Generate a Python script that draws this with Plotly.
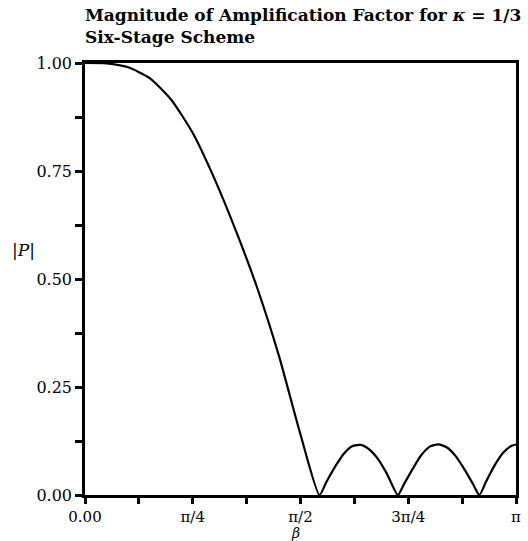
import plotly.graph_objects as go

# beta in units of pi, and |P|
beta_over_pi = [0.0, 0.05, 0.10, 0.15, 0.20, 0.25, 0.30, 0.35, 0.40, 0.45, 0.50, 0.544,
                0.56, 0.58, 0.60, 0.62, 0.64, 0.66, 0.68, 0.70, 0.726,
                0.74, 0.76, 0.78, 0.80, 0.82, 0.84, 0.86, 0.88, 0.90, 0.915,
                0.93, 0.95, 0.97, 0.99, 1.00]
mag_P = [1.0, 0.999, 0.99, 0.965, 0.915, 0.838, 0.733, 0.612, 0.478, 0.322, 0.14, 0.0,
         0.030, 0.065, 0.095, 0.113, 0.116, 0.105, 0.083, 0.050, 0.0,
         0.025, 0.060, 0.092, 0.112, 0.117, 0.110, 0.090, 0.060, 0.026, 0.0,
         0.030, 0.068, 0.098, 0.114, 0.117]

x_tickvals = [0, 0.125, 0.25, 0.375, 0.5, 0.625, 0.75, 0.875, 1.0]
x_ticktext = ["0.00", "", "π/4", "", "π/2", "", "3π/4", "", "π"]
y_tickvals = [0, 0.125, 0.25, 0.375, 0.5, 0.625, 0.75, 0.875, 1.0]
y_ticktext = ["0.00", "", "0.25", "", "0.50", "", "0.75", "", "1.00"]

title_lines = ["Magnitude of Amplification Factor for <i>κ</i> = 1/3", "Six-Stage Scheme"]

fig = go.Figure()
fig.add_trace(go.Scatter(x=beta_over_pi, y=mag_P, mode="lines",
                         line=dict(color="black", width=2.2, shape="spline", smoothing=0.6),
                         showlegend=False, cliponaxis=False))

font_serif = "DejaVu Serif"
fig.update_layout(
    width=528, height=541,
    margin=dict(l=85, r=7, t=63, b=46),
    paper_bgcolor="white", plot_bgcolor="white",
    font=dict(family=font_serif, color="black", size=14),
)
fig.update_xaxes(range=[0, 1], tickvals=x_tickvals, ticktext=x_ticktext,
                 showgrid=False, zeroline=False, showline=True, linecolor="black",
                 linewidth=2.5, mirror=True, ticks="outside", ticklen=6, tickwidth=2.5,
                 tickcolor="black", tickfont=dict(family=font_serif, size=15))
fig.update_yaxes(range=[0, 1], tickvals=y_tickvals, ticktext=y_ticktext,
                 showgrid=False, zeroline=False, showline=True, linecolor="black",
                 linewidth=2.5, mirror=True, ticks="outside", ticklen=7, tickwidth=2.5,
                 tickcolor="black", tickfont=dict(family=font_serif, size=16))

fig.add_annotation(text="<b>" + title_lines[0] + "</b>", xref="paper", yref="paper",
                   x=0, y=1, yshift=48, xshift=-2, xanchor="left", yanchor="middle", showarrow=False,
                   font=dict(family=font_serif, size=17))
fig.add_annotation(text="<b>" + title_lines[1] + "</b>", xref="paper", yref="paper",
                   x=0, y=1, yshift=26, xshift=-2, xanchor="left", yanchor="middle", showarrow=False,
                   font=dict(family=font_serif, size=17))
fig.add_annotation(text="|<i>P</i>|", xref="paper", yref="paper", x=0, y=0.567,
                   xshift=-62, xanchor="center", yanchor="middle", showarrow=False,
                   font=dict(family=font_serif, size=17))
fig.add_annotation(text="<i>β</i>", xref="paper", yref="paper", x=0.488, y=0,
                   yshift=-38, xanchor="center", yanchor="middle", showarrow=False,
                   font=dict(family=font_serif, size=14))

fig.write_html("out.html")
